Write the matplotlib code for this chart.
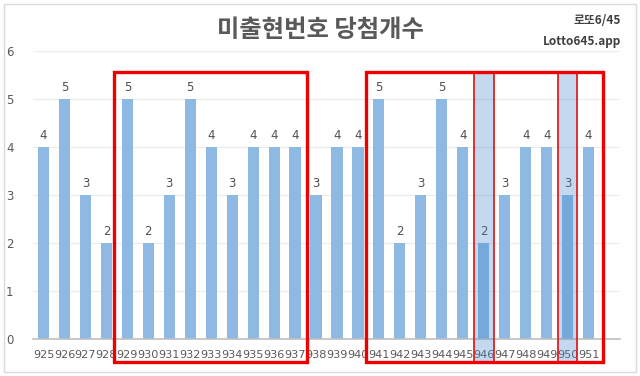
import matplotlib.pyplot as plt
from matplotlib.patches import Rectangle

plt.rcParams['font.family'] = ['Noto Sans CJK KR', 'DejaVu Sans']

rounds = [str(r) for r in range(925, 952)]
counts = [4, 5, 3, 2, 5, 2, 3, 5, 4, 3, 4, 4, 4, 3, 4, 4, 5, 2, 3, 5, 4, 2, 3, 4, 4, 3, 4]
highlight = ["946", "950"]

bar_color = "#8db9e2"
text_gray = "#595959"

fig = plt.figure(figsize=(6.4, 3.76), dpi=100)
ax = fig.add_axes([33 / 640, 1 - 339.3 / 376, 587 / 640, 288 / 376])

x = list(range(len(rounds)))
ax.bar(x, counts, width=0.53, color=bar_color, zorder=2)
for i, v in enumerate(counts):
    ax.text(i, v + 0.12, str(v), ha="center", va="bottom", fontsize=8.5,
            color="#505050", family=["DejaVu Sans"])

ax.set_xlim(-0.5, 27.5)
ax.set_ylim(0, 6)
ax.set_xticks(x)
ax.set_xticklabels(rounds, fontsize=8.1, color=text_gray, family=["DejaVu Sans"])
ax.set_yticks(range(7))
ax.set_yticklabels([str(v) for v in range(7)], fontsize=8.5, color=text_gray,
                   family=["DejaVu Sans"])
ax.tick_params(length=0, pad=8)
ax.tick_params(axis="y", pad=14)
ax.grid(axis="y", color="#ececec", linewidth=0.8, zorder=0)
for s in ["top", "right", "left"]:
    ax.spines[s].set_visible(False)
ax.spines["bottom"].set_color("#bfbfbf")
ax.spines["bottom"].set_linewidth(1.2)

# highlighted rounds
for h in highlight:
    i = rounds.index(h)
    ax.add_patch(Rectangle((i - 0.46, -0.47), 0.93, 6.04, facecolor="#4287cf", alpha=0.31,
                           edgecolor="none", clip_on=False, zorder=3))
    ax.add_patch(Rectangle((i - 0.46, -0.47), 0.93, 6.04, facecolor="none",
                           edgecolor="#e02020", linewidth=1.3, clip_on=False, zorder=4))

# big red boxes
ax.add_patch(Rectangle((3.37, -0.47), 9.19, 6.04, facecolor="none", edgecolor="#ee0000",
                       linewidth=2.4, clip_on=False, zorder=5))
ax.add_patch(Rectangle((15.39, -0.47), 11.29, 6.04, facecolor="none", edgecolor="#ee0000",
                       linewidth=2.4, clip_on=False, zorder=5))

fig.text(0.5, 1 - 30 / 376, "미출현번호 당첨개수", ha="center", va="center",
         fontsize=17.5, fontweight="bold", color=text_gray)
fig.text(621 / 640, 1 - 20 / 376, "로또6/45", ha="right", va="center",
         fontsize=8.5, fontweight="bold", color="#404040")
fig.text(621 / 640, 1 - 42 / 376, "Lotto645.app", ha="right", va="center",
         fontsize=8.5, fontweight="bold", color="#404040")

fig.patches.append(Rectangle((4 / 640, 4 / 376), 632 / 640, 368 / 376, transform=fig.transFigure,
                             facecolor="none", edgecolor="#d9d9d9", linewidth=1))

fig.savefig("out.png", dpi=100)
